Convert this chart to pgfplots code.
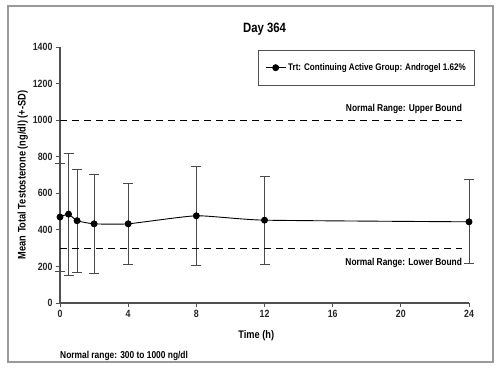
\documentclass[border=0pt]{standalone}
\usepackage{fontspec}
\setmainfont{Liberation Sans}[FakeStretch=0.84]
\usepackage{pgfplots}
\pgfplotsset{compat=1.18}
\definecolor{ebar}{HTML}{4A4A4A}
\definecolor{axc}{HTML}{505050}
\begin{document}
\begin{tikzpicture}[x=1pt,y=1pt]
\begin{axis}[
  scale only axis, width=409pt, height=256pt,
  xmin=0, xmax=24, ymin=0, ymax=1400,
  axis lines=left, axis line style={-, axc, line width=1.1pt},
  xtick={0,4,8,12,16,20,24}, ytick={0,200,400,600,800,1000,1200,1400},
  tick align=outside, major tick length=4pt,
  tick style={axc, line width=0.9pt},
  /pgf/number format/assume math mode=true,
  /pgf/number format/1000 sep={},
  tick label style={font=\bfseries\fontsize{10.5}{12}\selectfont, text=black!85},
  xlabel={Time (h)}, ylabel={Mean Total Testosterone (ng/dl) (+-SD)},
  label style={font=\bfseries\fontsize{11}{13}\selectfont},
  xlabel style={at={(0.48,0)}, anchor=north, yshift=-24pt},
  ylabel style={yshift=-2pt},
  title={Day 364}, title style={font=\bfseries\fontsize{13.5}{15}\selectfont, yshift=2pt},
  clip=false,
  legend style={at={(1.015,0.988)}, anchor=north east, draw=axc, line width=0.8pt,
    font=\bfseries\fontsize{9.6}{11}\selectfont, inner xsep=7pt, inner ysep=11pt},
  legend cell align=left,
  legend image code/.code={\draw[black, line width=1pt] (0pt,0pt) -- (20pt,0pt);
     \fill[black] (10pt,0pt) circle (3pt);},
]
\addplot[black, line width=0.9pt, smooth, tension=0.3, mark=*, mark size=3pt,
  error bars/.cd, y dir=both, y explicit,
  error bar style={ebar, line width=0.9pt}, error mark options={ebar, rotate=90, mark size=5pt, line width=0.9pt}]
  coordinates {
  (0,470) +- (0,295)
  (0.5,486) +- (0,333)
  (1,450) +- (0,282)
  (2,433) +- (0,270)
  (4,433) +- (0,222)
  (8,477) +- (0,270)
  (12,453) +- (0,241)
  (24,444) +- (0,230)
  };
\addlegendentry{Trt: Continuing Active Group: Androgel 1.62\%}
\addplot[black, line width=0.8pt, dash pattern=on 7pt off 5pt, forget plot] coordinates {(0,1000) (23.6,1000)};
\addplot[black, line width=0.8pt, dash pattern=on 7pt off 5pt, forget plot] coordinates {(0,300) (23.6,300)};
\node[anchor=south east, font=\bfseries\fontsize{10}{11}\selectfont, inner sep=0pt] at (axis cs:23.6,1035) {Normal Range: Upper Bound};
\node[anchor=north east, font=\bfseries\fontsize{10}{11}\selectfont, inner sep=0pt] at (axis cs:23.6,245) {Normal Range: Lower Bound};
\node[anchor=west, font=\bfseries\fontsize{10}{11}\selectfont, inner sep=0pt] at (rel axis cs:0,0) [yshift=-53pt] {Normal range: 300 to 1000 ng/dl};
\end{axis}
\draw[gray!80, line width=1.2pt] (-52pt,-59pt) rectangle (433pt,297pt);
\path (-60pt,-67pt) rectangle (440pt,303pt);
\end{tikzpicture}
\end{document}
